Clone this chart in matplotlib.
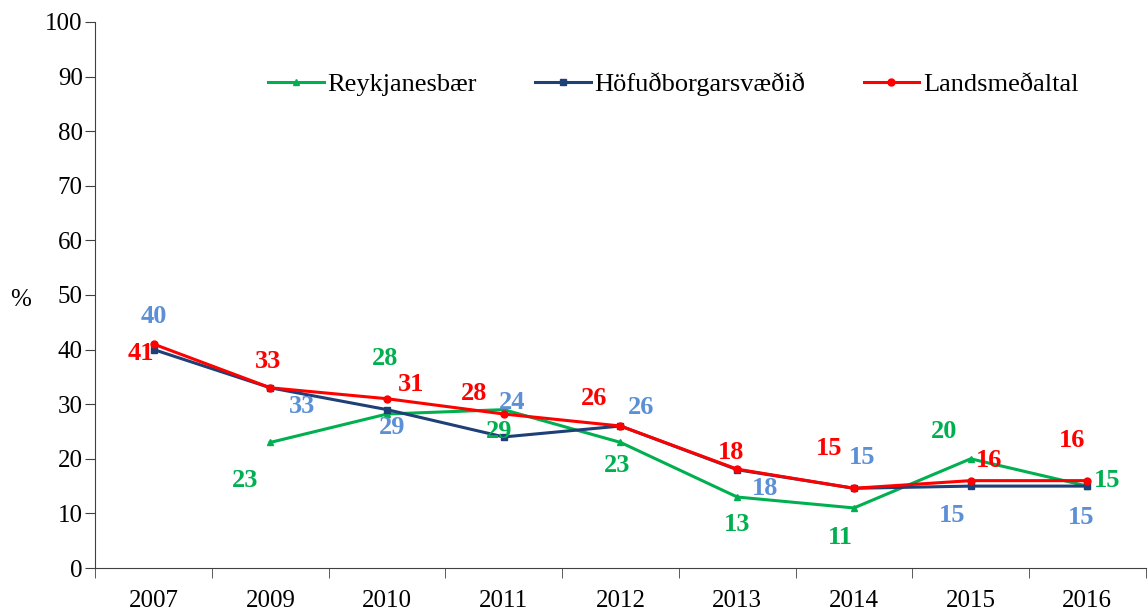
import numpy as np
import matplotlib.pyplot as plt

plt.rcParams['font.family'] = ['Liberation Serif', 'DejaVu Serif']

# data
years = ['2007', '2009', '2010', '2011', '2012', '2013', '2014', '2015', '2016']
reykjanesbaer = [np.nan, 23, 28.2, 29, 23, 13, 11, 20, 15]
hofudborg = [40, 33, 29, 24, 26, 18, 14.6, 15, 15]
landsmedaltal = [41, 33, 31, 28.2, 26, 18.1, 14.6, 16, 16]

# label offsets in pixels (dx, dy), picked by eye
off_green = [None, (-25, -38), (-2, 56), (-5, -22), (-3, -23), (0, -27), (-14, -30), (-27, 27), (20, 6)]
off_blue = [(0, 33), (32, -19), (5, -18), (8, 34), (21, 19), (28, -19), (8, 31), (-19, -29), (-6, -31)]
off_red = [(-13, -9), (-2, 26), (24, 14), (-30, 21), (-26, 28), (-6, 17), (-25, 40), (18, 20), (-15, 40)]

c_green = '#00B050'
c_blue = '#1F3F77'
c_blue_lbl = '#5B8FD6'
c_red = '#FF0000'

x = np.arange(len(years))

fig = plt.figure(figsize=(11.48, 6.15), dpi=100)
ax = fig.add_axes([0.083, 0.0764, 0.915, 0.888])

ax.plot(x, reykjanesbaer, color=c_green, lw=2.2, marker='^', ms=5, label='Reykjanesbær')
ax.plot(x, hofudborg, color=c_blue, lw=2.2, marker='s', ms=5, label='Höfuðborgarsvæðið')
ax.plot(x, landsmedaltal, color=c_red, lw=2.2, marker='o', ms=5, label='Landsmeðaltal')

def labels(vals, offs, col):
    for i, v in enumerate(vals):
        if offs[i] is None or np.isnan(v):
            continue
        ax.annotate(f'{v:.0f}', (x[i], v), xytext=offs[i], textcoords='offset pixels',
                    ha='center', va='center', color=col, fontsize=19, fontweight='bold')

labels(reykjanesbaer, off_green, c_green)
labels(hofudborg, off_blue, c_blue_lbl)
labels(landsmedaltal, off_red, c_red)

ax.set_xlim(-0.5, len(years) - 0.5)
ax.set_ylim(0, 100)
ax.set_yticks(range(0, 101, 10))
ax.set_xticks(x)
ax.set_xticklabels(years)
ax.set_xticks(np.arange(-0.5, len(years)), minor=True)
ax.tick_params(axis='x', which='major', length=0, pad=16, labelsize=18)
ax.tick_params(axis='x', which='minor', length=7, color='#404040')
ax.tick_params(axis='y', length=7, labelsize=18, pad=2, color='#404040')
for s in ['top', 'right']:
    ax.spines[s].set_visible(False)
for s in ['left', 'bottom']:
    ax.spines[s].set_color('#404040')

ax.set_ylabel('%', rotation=0, fontsize=18, ha='center', va='center')
ax.yaxis.set_label_coords(-0.0714, 0.49)

ax.legend(loc='center left', bbox_to_anchor=(0.1646, 0.886), ncol=3, frameon=False,
          fontsize=19, columnspacing=2.2, handlelength=2.1, handletextpad=0.15,
          borderpad=0, borderaxespad=0)

plt.savefig('out.png')
